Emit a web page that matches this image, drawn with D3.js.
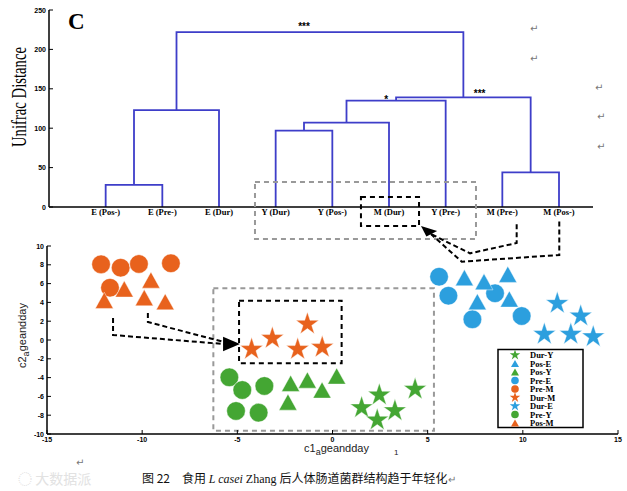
<!DOCTYPE html>
<html><head><meta charset="utf-8">
<script src="https://cdn.jsdelivr.net/npm/d3@7"></script>
<style>body{margin:0;background:#fff}svg{display:block}</style>
</head><body>
<script>
// ---------- DATA ----------
const leaves = ["E (Pos-)","E (Pre-)","E (Dur)","Y (Dur)","Y (Pos-)","M (Dur)","Y (Pre-)","M (Pre-)","M (Pos-)"];
// linkage: [childA, childB, height]  (index >= 9 -> earlier merge)
const merges = [[0,1,28],[9,2,123],[3,4,97],[11,5,107],[12,6,135],[7,8,44],[13,14,139],[10,15,222]];
const dendroTicks = [0,50,100,150,200,250];
const sigLabels = [["***",4.5,224],["*",5.95,132],["***",7.6,139]];

const scatterTicksX = [-15,-10,-5,0,5,10,15];
const scatterTicksY = [10,8,6,4,2,0,-2,-4,-6,-8,-10];

const preM = [[-12.16,8.05],[-11.13,7.69],[-10.17,8.09],[-8.49,8.16],[-11.69,5.56]];
const posM = [[-9.54,6.38],[-10.94,5.43],[-11.99,4.22],[-9.89,4.5],[-8.79,4.07]];
const durM = [[-4.25,-0.99],[-3.16,0.18],[-1.32,1.7],[-1.83,-0.99],[-0.54,-0.78]];
const preY = [[-5.42,-3.97],[-4.74,-5.32],[-3.58,-4.89],[-5.07,-7.55],[-3.88,-7.73]];
const posY = [[-2.2,-4.61],[-1.32,-4.26],[-0.55,-5.32],[0.22,-3.83],[-2.34,-6.6]];
const durY = [[1.53,-7.2],[2.46,-5.85],[3.28,-7.52],[2.35,-8.51],[4.34,-5.24]];
const preE = [[5.6,6.73],[6.09,4.71],[8.54,4.97],[7.35,2.2],[9.94,2.55]];
const posE = [[6.93,6.63],[7.96,6.2],[9.21,6.99],[7.61,4.07],[9.29,4.36]];
const durE = [[11.81,3.9],[13.04,2.55],[11.13,0.61],[12.52,0.61],[13.7,0.35]];

const legendNames = ["Dur-Y","Pos-E","Pos-Y","Pre-E","Pre-M","Dur-M","Dur-E","Pre-Y","Pos-M"];

// ---------- STYLE ----------
const W=627,H=491;
const COL={M:"#e8621d",Y:"#44a633",E:"#2c9fde"};
const svg=d3.select("body").append("svg").attr("width",W).attr("height",H);
const sans="'Liberation Sans',Arial,sans-serif", serif="'Liberation Serif','Times New Roman',serif";

// ---------- DENDROGRAM ----------
const dx=d3.scaleLinear().domain([0,9.6]).range([49,593]);
const dy=d3.scaleLinear().domain([0,250]).range([207,10]);
const g1=svg.append("g");
const nodes=leaves.map((l,i)=>({x:i+1,h:0}));
merges.forEach(([a,b,h])=>{
  const A=nodes[a],B=nodes[b];
  g1.append("path").attr("fill","none").attr("stroke","#3e3ec9").attr("stroke-width",1.8)
    .attr("d",`M${dx(A.x)},${dy(A.h)}V${dy(h)}H${dx(B.x)}V${dy(B.h)}`);
  nodes.push({x:(A.x+B.x)/2,h});
});
// axes
g1.append("line").attr("x1",dx(0)).attr("x2",dx(9.6)).attr("y1",dy(0)).attr("y2",dy(0)).attr("stroke","#000").attr("stroke-width",1.5);
g1.append("line").attr("x1",dx(0)).attr("x2",dx(0)).attr("y1",dy(0)).attr("y2",dy(250)).attr("stroke","#000").attr("stroke-width",1.5);
dendroTicks.forEach(t=>{
  g1.append("line").attr("x1",dx(0)).attr("x2",dx(0)+4).attr("y1",dy(t)).attr("y2",dy(t)).attr("stroke","#000");
  g1.append("text").attr("x",dx(0)-3).attr("y",dy(t)+2.5).attr("text-anchor","end")
    .attr("font-family",sans).attr("font-weight","bold").attr("font-size",7).text(t);
});
leaves.forEach((l,i)=>{
  g1.append("text").attr("x",dx(i+1)).attr("y",dy(0)+8).attr("text-anchor","middle")
   .attr("font-family",serif).attr("font-weight","bold").attr("font-size",8.5).text(l);
});
sigLabels.forEach(([t,x,y])=>{
  g1.append("text").attr("x",dx(x)).attr("y",dy(y)).attr("text-anchor","middle")
   .attr("font-family",sans).attr("font-weight","bold").attr("font-size",10).text(t);
});
svg.append("text").attr("x",68).attr("y",29).attr("font-family",serif).attr("font-weight","bold").attr("font-size",23).text("C");
svg.append("text").attr("transform","translate(26,147) rotate(-90)").attr("font-family",serif)
  .attr("font-size",20).attr("textLength",100).attr("lengthAdjust","spacingAndGlyphs").text("Unifrac Distance");
// return marks
[[530,28],[530,58],[595,87],[597,116],[597,146],[76,462]].forEach(([x,y])=>{
  svg.append("text").attr("x",x).attr("y",y+4).attr("font-family","'DejaVu Sans'").attr("font-size",10).attr("fill","#777").text("↵");
});

// ---------- SCATTER ----------
const sx=d3.scaleLinear().domain([-15,15]).range([47,618]);
const sy=d3.scaleLinear().domain([-10,10]).range([434,246]);
const g2=svg.append("g");

function dashRect(sxF,syF,x0,y0,x1,y1,color,w){
  g2.append("rect").attr("x",sxF(x0)).attr("y",syF(y0)).attr("width",sxF(x1)-sxF(x0)).attr("height",syF(y1)-syF(y0))
    .attr("fill","none").attr("stroke",color).attr("stroke-width",w).attr("stroke-dasharray","5,4");
}
function dashLine(sxF,syF,pts){
  g2.append("path").attr("fill","none").attr("stroke","#000").attr("stroke-width",2).attr("stroke-dasharray","5,3")
    .attr("d",d3.line().x(p=>sxF(p[0])).y(p=>syF(p[1]))(pts));
}
function head(sxF,syF,pts){
  g2.append("path").attr("fill","#000").attr("d",d3.line().x(p=>sxF(p[0])).y(p=>syF(p[1]))(pts)+"Z");
}
dashRect(dx,dy,3.635,31.7,7.535,-40.6,"#999",2);
dashRect(dx,dy,5.505,12.7,6.53,-24.1,"#000",2);
dashLine(dx,dy,[[8.253,-22],[8.253,-45.7],[7.43,-58.8],[6.74,-34.3]]);
dashLine(dx,dy,[[9.005,-18.3],[9.005,-60.9],[7.283,-69.4],[6.74,-34.3]]);
head(dx,dy,[[6.565,-24.1],[6.85,-30.5],[6.66,-37.3]]);

dashRect(sx,sy,-6.26,5.5,5.33,-9.65,"#999",2);
dashRect(sx,sy,-4.91,4.18,0.48,-2.48,"#000",2);
dashLine(sx,sy,[[-11.53,2.34],[-11.53,0.53],[-5.7,-0.43]]);
dashLine(sx,sy,[[-9.7,2.87],[-9.7,1.91],[-5.7,-0.21]]);
head(sx,sy,[[-4.86,-0.43],[-5.75,0.35],[-5.75,-1.2]]);

// markers
const tri=(w,h)=>`M0,${-h/2}L${w/2},${h/2}L${-w/2},${h/2}Z`;
const shapes={
  circle:r=>d3.symbol(d3.symbolCircle,Math.PI*r*r)(),
  triangle:r=>tri(r*2,r*1.8),
  star:r=>d3.symbol(d3.symbolStar,r*r/0.8908)(),
};
const series=[
  [preM,"circle",COL.M],[posM,"triangle",COL.M],[durM,"star",COL.M],
  [preY,"circle",COL.Y],[posY,"triangle",COL.Y],[durY,"star",COL.Y],
  [preE,"circle",COL.E],[posE,"triangle",COL.E],[durE,"star",COL.E]];
const size={circle:9.3,triangle:9,star:12};
series.forEach(([pts,shape,c])=>{
  g2.selectAll(null).data(pts).enter().append("path")
    .attr("transform",d=>`translate(${sx(d[0])},${sy(d[1])})`)
    .attr("d",shapes[shape](size[shape])).attr("fill",c)
    .attr("stroke","#fff").attr("stroke-opacity",0.55).attr("stroke-width",0.8);
});

// axes
g2.append("line").attr("x1",sx(-15)).attr("x2",sx(15)).attr("y1",sy(-10)).attr("y2",sy(-10)).attr("stroke","#000").attr("stroke-width",1.5);
g2.append("line").attr("x1",sx(-15)).attr("x2",sx(-15)).attr("y1",sy(-10)).attr("y2",sy(10)).attr("stroke","#000").attr("stroke-width",1.5);
scatterTicksX.forEach(t=>{
  g2.append("line").attr("x1",sx(t)).attr("x2",sx(t)).attr("y1",sy(-10)).attr("y2",sy(-10)-4).attr("stroke","#000");
  g2.append("text").attr("x",sx(t)).attr("y",sy(-10)+8).attr("text-anchor","middle")
    .attr("font-family",sans).attr("font-weight","bold").attr("font-size",7).text(t);
});
scatterTicksY.forEach(t=>{
  g2.append("line").attr("x1",sx(-15)).attr("x2",sx(-15)+4).attr("y1",sy(t)).attr("y2",sy(t)).attr("stroke","#000");
  g2.append("text").attr("x",sx(-15)-3).attr("y",sy(t)+2.5).attr("text-anchor","end")
    .attr("font-family",sans).attr("font-weight","bold").attr("font-size",7).text(t);
});
// axis labels
const xl=svg.append("text").attr("x",304).attr("y",452).attr("font-family",sans).attr("font-size",11).attr("fill","#222");
xl.append("tspan").text("c1");
xl.append("tspan").attr("dy",3).attr("font-size",9).text("a");
xl.append("tspan").attr("dy",-3).text("geandday");
svg.append("text").attr("x",394).attr("y",455).attr("font-family",sans).attr("font-size",8).attr("fill","#222").text("1");
const yl=svg.append("text").attr("transform","translate(26,368) rotate(-90)").attr("font-family",sans).attr("font-size",11).attr("fill","#222");
yl.append("tspan").text("c2");
yl.append("tspan").attr("dy",3).attr("font-size",9).text("a");
yl.append("tspan").attr("dy",-3).text("geandday");

// legend
const lg=svg.append("g");
lg.append("rect").attr("x",498).attr("y",349.5).attr("width",85).attr("height",78).attr("fill","#fff").attr("stroke","#000").attr("stroke-width",1.5);
const legendStyle={"Dur-Y":["star",COL.Y],"Pos-E":["triangle",COL.E],"Pos-Y":["triangle",COL.Y],"Pre-E":["circle",COL.E],
  "Pre-M":["circle",COL.M],"Dur-M":["star",COL.M],"Dur-E":["star",COL.E],"Pre-Y":["circle",COL.Y],"Pos-M":["triangle",COL.M]};
const lsz={circle:3.8,triangle:4,star:5.5};
legendNames.forEach((n,i)=>{
  const y=355+i*8.5;
  const [s,c]=legendStyle[n];
  lg.append("path").attr("transform",`translate(515,${y})`).attr("d",shapes[s](lsz[s])).attr("fill",c);
  lg.append("text").attr("x",530).attr("y",y+3).attr("font-family",serif).attr("font-weight","bold").attr("font-size",8.5).text(n);
});

// caption
const cap=svg.append("text").attr("x",142).attr("y",483).attr("font-family","'Noto Sans CJK SC',sans-serif").attr("font-size",12).attr("fill","#111");
cap.append("tspan").text("图 22　食用 ");
cap.append("tspan").attr("font-family",serif).attr("font-style","italic").text("L casei");
cap.append("tspan").attr("font-family",serif).text(" Zhang ");
cap.append("tspan").text("后人体肠道菌群结构趋于年轻化");
cap.append("tspan").attr("font-size",10).attr("fill","#777").text("↵");
// watermark
svg.append("text").attr("x",18).attr("y",484).attr("font-family","'Noto Sans CJK SC',sans-serif").attr("font-size",14)
  .attr("fill","#e2e2e2").text("◌ 大数据派");
</script>
</body></html>
